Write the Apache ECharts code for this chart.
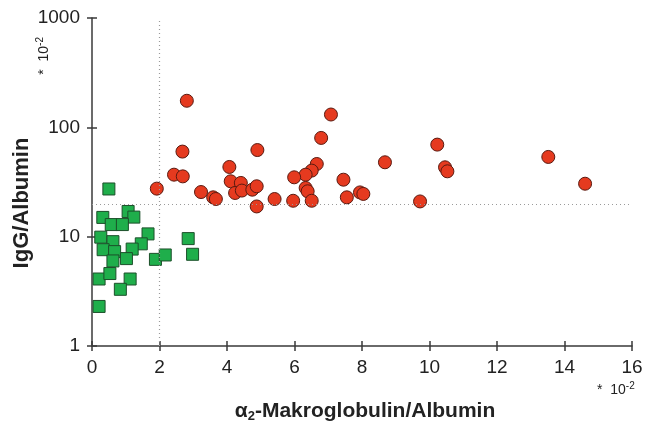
<!DOCTYPE html>
<html>
<head>
<meta charset="utf-8">
<script src="https://cdn.jsdelivr.net/npm/echarts@6/dist/echarts.min.js"></script>
<style>
html,body{margin:0;padding:0;background:#fff;}
#chart{width:646px;height:423px;}
</style>
</head>
<body>
<div id="chart"></div>
<script>
// α2-Makroglobulin/Albumin (x, *10^-2) vs IgG/Albumin (y, *10^-2, log)
const greenX = [0.50,0.32,1.07,1.24,0.57,0.90,0.26,0.62,1.66,1.46,0.33,0.67,1.19,0.62,1.02,1.88,2.17,2.85,2.98,0.21,0.53,1.13,0.84,0.21];
const greenY = [27.3,15.0,17.0,15.1,12.9,12.9,9.9,9.0,10.6,8.6,7.6,7.3,7.7,6.0,6.3,6.2,6.8,9.6,6.9,4.1,4.6,4.1,3.3,2.3];

const redX = [2.81,7.08,6.79,2.68,4.90,4.07,6.66,6.51,2.43,2.69,6.33,5.99,7.45,1.92,3.23,4.11,4.41,4.24,4.44,4.75,4.88,6.33,6.39,3.59,3.67,5.41,5.96,6.51,4.88,7.55,10.23,8.68,13.52,10.46,10.53,14.61,7.94,8.04,9.72];
const redY = [175,131,80,60,62,43.4,46.2,40.2,36.9,35.6,36.9,34.9,33.2,27.5,25.6,32.1,31.0,25.1,26.4,26.9,28.9,27.9,26.0,22.9,22.1,22.1,21.3,21.3,18.9,22.9,69.5,47.9,53.6,43.1,39.6,30.5,25.4,24.6,21.0];

const xTicks = [0,2,4,6,8,10,12,14,16];
const yTicks = [1,10,100,1000];
const cutX = 2;
const cutY = 20;

const pairs = (xs, ys) => xs.map((x, i) => [x, ys[i]]);

const font = 'Liberation Sans, Arial, sans-serif';
const axisColor = '#3a3a3a';
const textColor = '#222';

const scaleNote = {
  text: '{m|*  10}{e|-2}',
  rich: {
    m: { fontFamily: font, fontSize: 14, fill: textColor },
    e: { fontFamily: font, fontSize: 10, fill: textColor, verticalAlign: 'top', padding: [0, 0, 8, 0] }
  }
};

const chart = echarts.init(document.getElementById('chart'));
chart.setOption({
  animation: false,
  backgroundColor: '#fff',
  grid: { left: 92, top: 18, right: 14, bottom: 77, containLabel: false },
  xAxis: [{
    type: 'value', min: 0, max: 16, interval: 2,
    axisLine: { show: true, lineStyle: { color: axisColor, width: 1.5 } },
    axisTick: { show: true, inside: false, length: 5, lineStyle: { color: axisColor, width: 1.5 } },
    axisLabel: { fontFamily: font, fontSize: 19, color: textColor, margin: 12,
      formatter: v => xTicks.includes(v) ? String(v) : '' },
    splitLine: { show: false }
  }, {
    type: 'value', min: 0, max: 16, interval: 2, position: 'bottom',
    axisLine: { show: false },
    axisTick: { show: true, inside: true, length: 5, lineStyle: { color: axisColor, width: 1.5 } },
    axisLabel: { show: false }, splitLine: { show: false }
  }],
  yAxis: [{
    type: 'log', logBase: 10, min: 1, max: 1000,
    axisLine: { show: true, lineStyle: { color: axisColor, width: 1.5 } },
    axisTick: { show: true, inside: false, length: 5, lineStyle: { color: axisColor, width: 1.5 } },
    axisLabel: { fontFamily: font, fontSize: 19, color: textColor, margin: 12,
      formatter: v => yTicks.includes(Math.round(v)) ? String(Math.round(v)) : '' },
    minorTick: { show: false },
    splitLine: { show: false }
  }, {
    type: 'log', logBase: 10, min: 1, max: 1000, position: 'left',
    axisLine: { show: false },
    axisTick: { show: true, inside: true, length: 5, lineStyle: { color: axisColor, width: 1.5 } },
    axisLabel: { show: false }, splitLine: { show: false }
  }],
  series: [{
    type: 'scatter', name: 'green', xAxisIndex: 0, yAxisIndex: 0,
    data: pairs(greenX, greenY),
    symbol: 'rect', symbolSize: 12,
    itemStyle: { color: '#1fae4b', borderColor: '#1c4f2a', borderWidth: 1, opacity: 1 },
    markLine: {
      silent: true, symbol: 'none', label: { show: false },
      lineStyle: { color: '#9a9a9a', type: [1, 3], width: 1.2 },
      data: [{ xAxis: cutX }, { yAxis: cutY }]
    },
    z: 3
  }, {
    type: 'scatter', name: 'red', xAxisIndex: 0, yAxisIndex: 0,
    data: pairs(redX, redY),
    symbol: 'circle', symbolSize: 13,
    itemStyle: { color: '#e53a1f', borderColor: '#5a1a10', borderWidth: 1, opacity: 1 },
    z: 3
  }],
  graphic: [{
    // y-axis title
    type: 'text', x: 22, y: 203, rotation: Math.PI / 2,
    style: {
      text: 'IgG/Albumin', fontFamily: font, fontSize: 22, fontWeight: 'bold',
      fill: textColor, align: 'center', verticalAlign: 'middle'
    }
  }, {
    // x-axis title with subscript
    type: 'text', x: 365, y: 411,
    style: {
      text: '{a|α}{s|2}{a|-Makroglobulin/Albumin}',
      align: 'center', verticalAlign: 'middle',
      rich: {
        a: { fontFamily: font, fontSize: 21, fontWeight: 'bold', fill: textColor },
        s: { fontFamily: font, fontSize: 13, fontWeight: 'bold', fill: textColor, verticalAlign: 'bottom', padding: [10, 0, 0, 0] }
      }
    }
  }, {
    type: 'text', left: 35, top: 37, rotation: Math.PI / 2,
    style: scaleNote
  }, {
    type: 'text', left: 597, top: 381,
    style: scaleNote
  }]
});
</script>
</body>
</html>
